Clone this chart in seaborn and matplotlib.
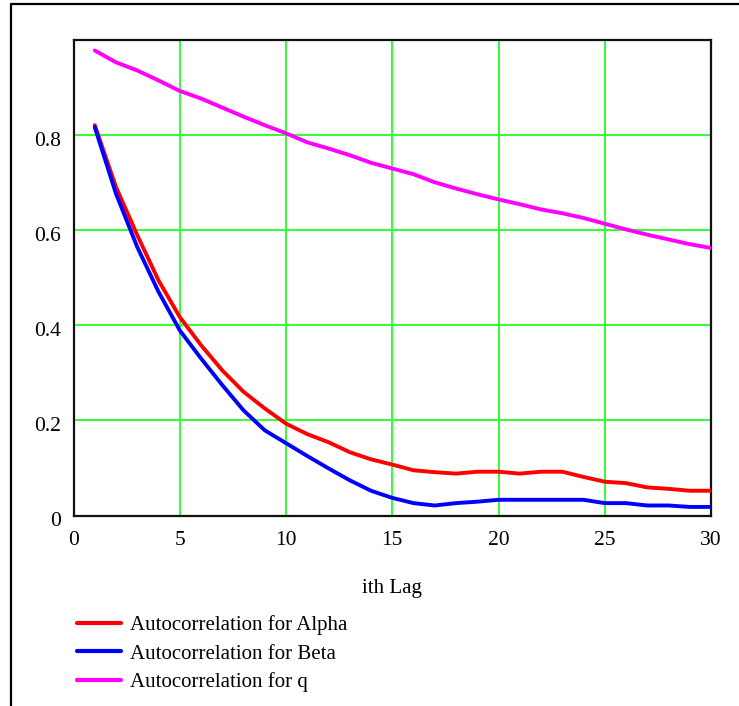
import numpy as np
import pandas as pd
import matplotlib
matplotlib.use("Agg")
import matplotlib.pyplot as plt
from matplotlib.lines import Line2D
import matplotlib.transforms as mtransforms
import seaborn as sns

lags = list(range(1, 31))
alpha = [0.820, 0.690, 0.589, 0.494, 0.417, 0.358, 0.305, 0.260, 0.225, 0.193,
         0.171, 0.154, 0.133, 0.118, 0.107, 0.095, 0.091, 0.088, 0.092, 0.092,
         0.088, 0.092, 0.092, 0.081, 0.071, 0.068, 0.059, 0.056, 0.052, 0.052]
beta = [0.816, 0.676, 0.564, 0.470, 0.389, 0.330, 0.274, 0.221, 0.179, 0.152,
        0.125, 0.099, 0.074, 0.052, 0.037, 0.026, 0.021, 0.026, 0.029, 0.033,
        0.033, 0.033, 0.033, 0.033, 0.026, 0.026, 0.021, 0.021, 0.018, 0.018]
q = [0.977, 0.952, 0.935, 0.914, 0.892, 0.876, 0.857, 0.838, 0.820, 0.803,
     0.784, 0.771, 0.757, 0.741, 0.729, 0.717, 0.700, 0.687, 0.675, 0.664,
     0.654, 0.643, 0.635, 0.625, 0.613, 0.601, 0.590, 0.580, 0.570, 0.562]
series_names = ["Autocorrelation for Alpha", "Autocorrelation for Beta", "Autocorrelation for q"]
colors = ["#ff0000", "#0000ff", "#ff00ff"]
xticks = [0, 5, 10, 15, 20, 25, 30]
yticks = [0, 0.2, 0.4, 0.6, 0.8]
ytick_labels = ["0", "0.2", "0.4", "0.6", "0.8"]
xlabel = "ith Lag"

df = pd.DataFrame({
    "lag": lags * 3,
    "value": alpha + beta + q,
    "series": [series_names[0]] * 30 + [series_names[1]] * 30 + [series_names[2]] * 30,
})

sns.set_style("white")
plt.rcParams["font.family"] = ["Liberation Serif", "DejaVu Serif"]
plt.rcParams["text.color"] = "black"
plt.rcParams["axes.labelcolor"] = "black"

fig = plt.figure(figsize=(7.39, 7.06), dpi=100)
ax = fig.add_axes([73.5 / 739, 1 - 515.5 / 706, (711 - 73.5) / 739, 476 / 706])

sns.lineplot(data=df, x="lag", y="value", hue="series", hue_order=series_names,
             palette=dict(zip(series_names, colors)), linewidth=2.8, ax=ax, zorder=3)

ax.set_xlim(0, 30)
ax.set_ylim(0, 1.0)
ax.set_xticks(xticks)
ax.set_xticklabels([str(t) for t in xticks])
ax.set_yticks(yticks + [1.0])
ax.set_yticklabels(ytick_labels + [""])
ax.grid(True, color="#22ff22", linewidth=1.3, zorder=1)
ax.set_axisbelow(True)
ax.tick_params(axis="both", length=0, labelsize=15.5, colors="black")
ax.tick_params(axis="y", pad=9)
ax.tick_params(axis="x", pad=11)
shift = mtransforms.ScaledTranslation(0, -4 / 100, fig.dpi_scale_trans)
for lab in ax.get_yticklabels():
    lab.set_transform(lab.get_transform() + shift)
for side in ["left", "right", "top", "bottom"]:
    ax.spines[side].set_visible(True)
    ax.spines[side].set_color("#111111")
    ax.spines[side].set_linewidth(1.6)
ax.set_xlabel(xlabel, fontsize=15, labelpad=21, color="black")
ax.set_ylabel("")

handles, labels = ax.get_legend_handles_labels()
for h in handles:
    h.set_linewidth(3.0)
leg = ax.legend(handles=handles, labels=labels, loc="upper left",
                bbox_to_anchor=(77 / 739, 1 - 615.5 / 706), bbox_transform=fig.transFigure,
                frameon=False, fontsize=15, handlelength=2.1, handletextpad=0.45,
                labelspacing=0.41, borderaxespad=0, borderpad=0)
for t in leg.get_texts():
    t.set_color("black")

# outer frame (top and left edges)
fig.add_artist(Line2D([11 / 739, 11 / 739], [0, 1 - 4 / 706], transform=fig.transFigure,
                      color="black", linewidth=1.6))
fig.add_artist(Line2D([11 / 739, 1], [1 - 4 / 706, 1 - 4 / 706], transform=fig.transFigure,
                      color="black", linewidth=1.6))

fig.savefig("out.png", dpi=100)
